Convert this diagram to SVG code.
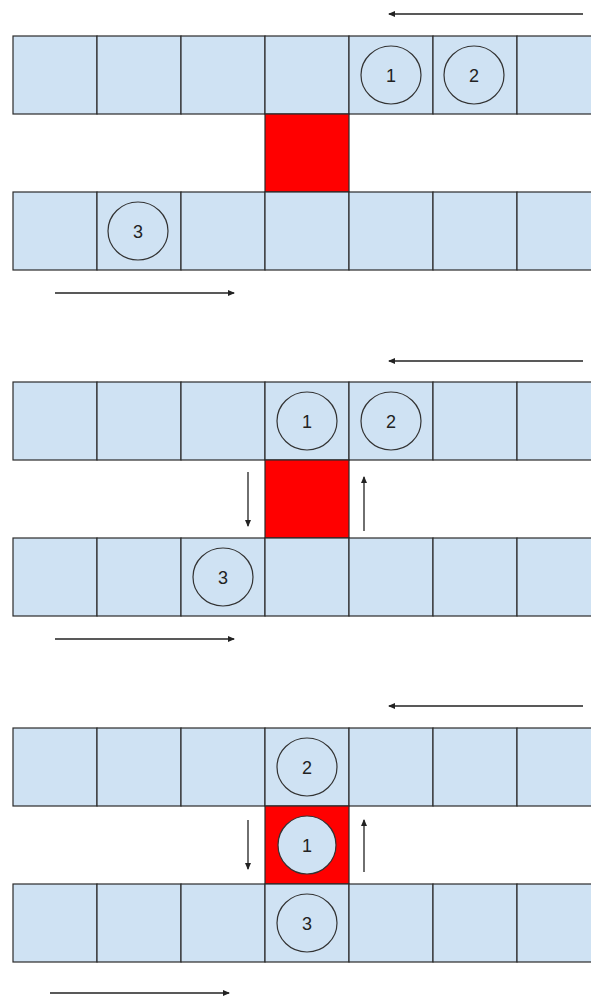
<svg xmlns="http://www.w3.org/2000/svg" width="591" height="996" viewBox="0 0 591 996">
<defs>
<style>
.cell{fill:#cfe2f3;stroke:#2b2b2b;stroke-width:1.2}
.red{fill:#ff0000;stroke:#2b2b2b;stroke-width:1.2}
.ball{fill:none;stroke:#333;stroke-width:1.2}
.ballf{fill:#cfe2f3;stroke:#333;stroke-width:1.2}
.lbl{font-family:"Liberation Sans",Arial,sans-serif;font-size:18px;fill:#222;text-anchor:middle}
.arr{stroke:#222;stroke-width:1.3;fill:none;marker-end:url(#ah)}
</style>
<marker id="ah" markerWidth="7" markerHeight="6" refX="6" refY="3" orient="auto" markerUnits="userSpaceOnUse">
<path d="M0,0 L7,3 L0,6 Z" fill="#222"/>
</marker>
<g id="rowcells">
<rect class="cell" x="13" y="0" width="84" height="78"/>
<rect class="cell" x="97" y="0" width="84" height="78"/>
<rect class="cell" x="181" y="0" width="84" height="78"/>
<rect class="cell" x="265" y="0" width="84" height="78"/>
<rect class="cell" x="349" y="0" width="84" height="78"/>
<rect class="cell" x="433" y="0" width="84" height="78"/>
<rect class="cell" x="517" y="0" width="84" height="78"/>
</g>
</defs>

<!-- Panel 1 -->
<g id="panel1">
<g id="p1-top"><use href="#rowcells" x="0" y="36"/></g>
<g id="p1-red"><rect class="red" x="265" y="114" width="84" height="78"/></g>
<g id="p1-bottom"><use href="#rowcells" x="0" y="192"/></g>
<g id="p1-ball1"><ellipse class="ball" cx="391" cy="75" rx="30" ry="29"/><text class="lbl" x="391" y="81.5">1</text></g>
<g id="p1-ball2"><ellipse class="ball" cx="474" cy="75" rx="30" ry="29"/><text class="lbl" x="474" y="81.5">2</text></g>
<g id="p1-ball3"><ellipse class="ball" cx="138" cy="231" rx="30" ry="29"/><text class="lbl" x="138" y="237.5">3</text></g>
</g>

<!-- Panel 2 -->
<g id="panel2">
<g id="p2-top"><use href="#rowcells" x="0" y="382"/></g>
<g id="p2-red"><rect class="red" x="265" y="460" width="84" height="78"/></g>
<g id="p2-bottom"><use href="#rowcells" x="0" y="538"/></g>
<g id="p2-ball1"><ellipse class="ball" cx="307" cy="421" rx="30" ry="29"/><text class="lbl" x="307" y="427.5">1</text></g>
<g id="p2-ball2"><ellipse class="ball" cx="391" cy="421" rx="30" ry="29"/><text class="lbl" x="391" y="427.5">2</text></g>
<g id="p2-ball3"><ellipse class="ball" cx="223" cy="577" rx="30" ry="29"/><text class="lbl" x="223" y="583.5">3</text></g>
</g>

<!-- Panel 3 -->
<g id="panel3">
<g id="p3-top"><use href="#rowcells" x="0" y="728"/></g>
<g id="p3-red"><rect class="red" x="265" y="806" width="84" height="78"/></g>
<g id="p3-bottom"><use href="#rowcells" x="0" y="884"/></g>
<g id="p3-ball2"><ellipse class="ball" cx="307" cy="767" rx="30" ry="29"/><text class="lbl" x="307" y="773.5">2</text></g>
<g id="p3-ball1"><ellipse class="ballf" cx="307" cy="845" rx="29" ry="29"/><text class="lbl" x="307" y="851.5">1</text></g>
<g id="p3-ball3"><ellipse class="ball" cx="307" cy="923" rx="30" ry="29"/><text class="lbl" x="307" y="929.5">3</text></g>
</g>

<g id="connectors">
<line class="arr" x1="583" y1="14" x2="389" y2="14"/>
<line class="arr" x1="55" y1="293" x2="234" y2="293"/>
<line class="arr" x1="583" y1="361" x2="389" y2="361"/>
<line class="arr" x1="55" y1="639" x2="234" y2="639"/>
<line class="arr" x1="248" y1="472" x2="248" y2="526"/>
<line class="arr" x1="364" y1="531" x2="364" y2="477"/>
<line class="arr" x1="583" y1="706" x2="389" y2="706"/>
<line class="arr" x1="50" y1="993" x2="229" y2="993"/>
<line class="arr" x1="248" y1="820" x2="248" y2="869"/>
<line class="arr" x1="364" y1="872" x2="364" y2="820"/>
</g>
</svg>
